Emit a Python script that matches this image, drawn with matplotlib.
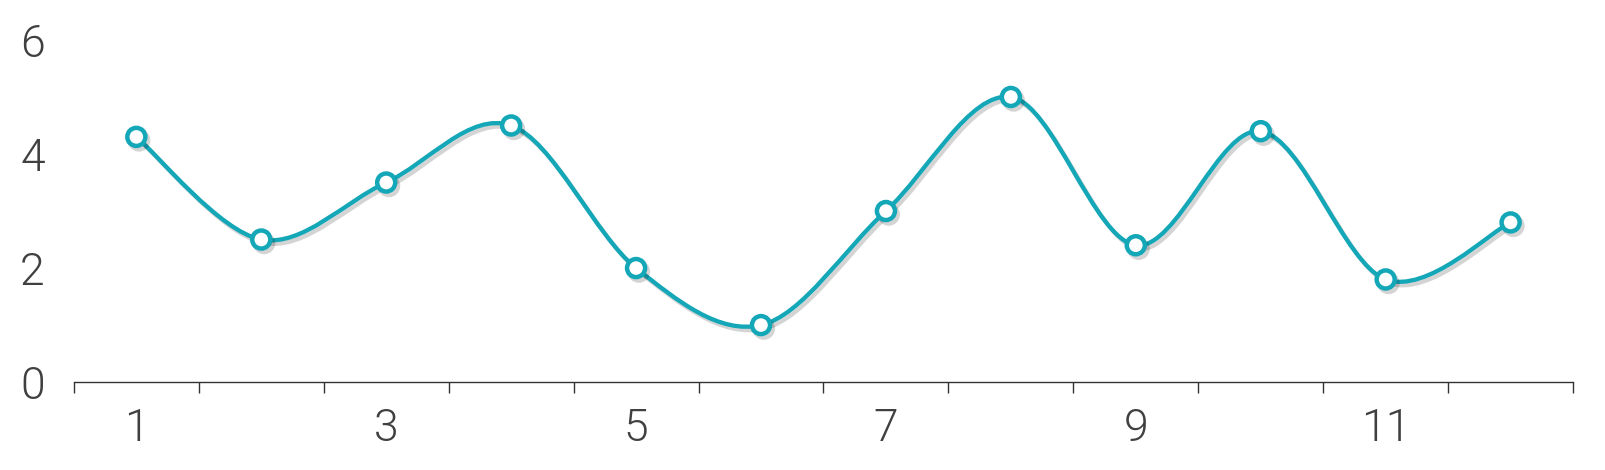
import matplotlib
matplotlib.use("Agg")
import matplotlib.pyplot as plt
import matplotlib.patheffects as pe
from matplotlib.path import Path
from matplotlib.patches import PathPatch
import numpy as np

categories = [1, 2, 3, 4, 5, 6, 7, 8, 9, 10, 11, 12]
values = [4.3, 2.5, 3.5, 4.5, 2.0, 1.0, 3.0, 5.0, 2.4, 4.4, 1.8, 2.8]
x_labels = ["1", "3", "5", "7", "9", "11"]
y_ticks = [0, 2, 4, 6]

teal = "#14a7b7"
text_col = "#404040"

plt.rcParams["font.family"] = ["Roboto", "DejaVu Sans"]


def smooth_path(xs, ys, t=1 / 6):
    # catmull-rom style bezier, like the "smoothed line" option in office charts
    xs = np.asarray(xs, float)
    ys = np.asarray(ys, float)
    n = len(xs)
    verts = [(xs[0], ys[0])]
    codes = [Path.MOVETO]
    for i in range(n - 1):
        p0 = i - 1 if i > 0 else i
        p3 = i + 2 if i + 2 < n else i + 1
        c1 = (xs[i] + (xs[i + 1] - xs[p0]) * t, ys[i] + (ys[i + 1] - ys[p0]) * t)
        c2 = (xs[i + 1] - (xs[p3] - xs[i]) * t, ys[i + 1] - (ys[p3] - ys[i]) * t)
        verts += [c1, c2, (xs[i + 1], ys[i + 1])]
        codes += [Path.CURVE4] * 3
    return Path(verts, codes)


fig = plt.figure(figsize=(16.06, 4.70), dpi=100)
ax = fig.add_axes([0.046, 0.187, 0.9335, 0.728])

shadow = [pe.SimpleLineShadow(offset=(2, -2.5), shadow_color="#000000", alpha=0.17),
          pe.Normal()]

patch = PathPatch(smooth_path(categories, values), facecolor="none", edgecolor=teal,
                  lw=3.1, capstyle="round", joinstyle="round", zorder=3)
patch.set_path_effects(shadow)
ax.add_patch(patch)

mk = ax.plot(categories, values, linestyle="none", marker="o", markersize=13,
             markerfacecolor="white", markeredgecolor=teal, markeredgewidth=3.2, zorder=4)[0]
mk.set_path_effects(shadow)

ax.set_xlim(0.5, 12.5)
ax.set_ylim(0, 6)

for s in ["top", "right", "left"]:
    ax.spines[s].set_visible(False)
ax.spines["bottom"].set_color("#333333")
ax.spines["bottom"].set_linewidth(1)

ax.set_yticks(y_ticks)
ax.set_yticklabels([str(v) for v in y_ticks])
ax.tick_params(axis="y", length=0, pad=21, labelsize=32, labelcolor=text_col)

ax.set_xticks([int(v) for v in x_labels])
ax.set_xticklabels(x_labels)
ax.tick_params(axis="x", which="major", length=0, pad=18, labelsize=32, labelcolor=text_col)
ax.set_xticks(np.arange(0.5, 13, 1), minor=True)
ax.tick_params(axis="x", which="minor", length=8, width=1, color="#333333")

for lab in ax.get_xticklabels() + ax.get_yticklabels():
    lab.set_fontweight(300)

fig.savefig("out.png", dpi=100)
